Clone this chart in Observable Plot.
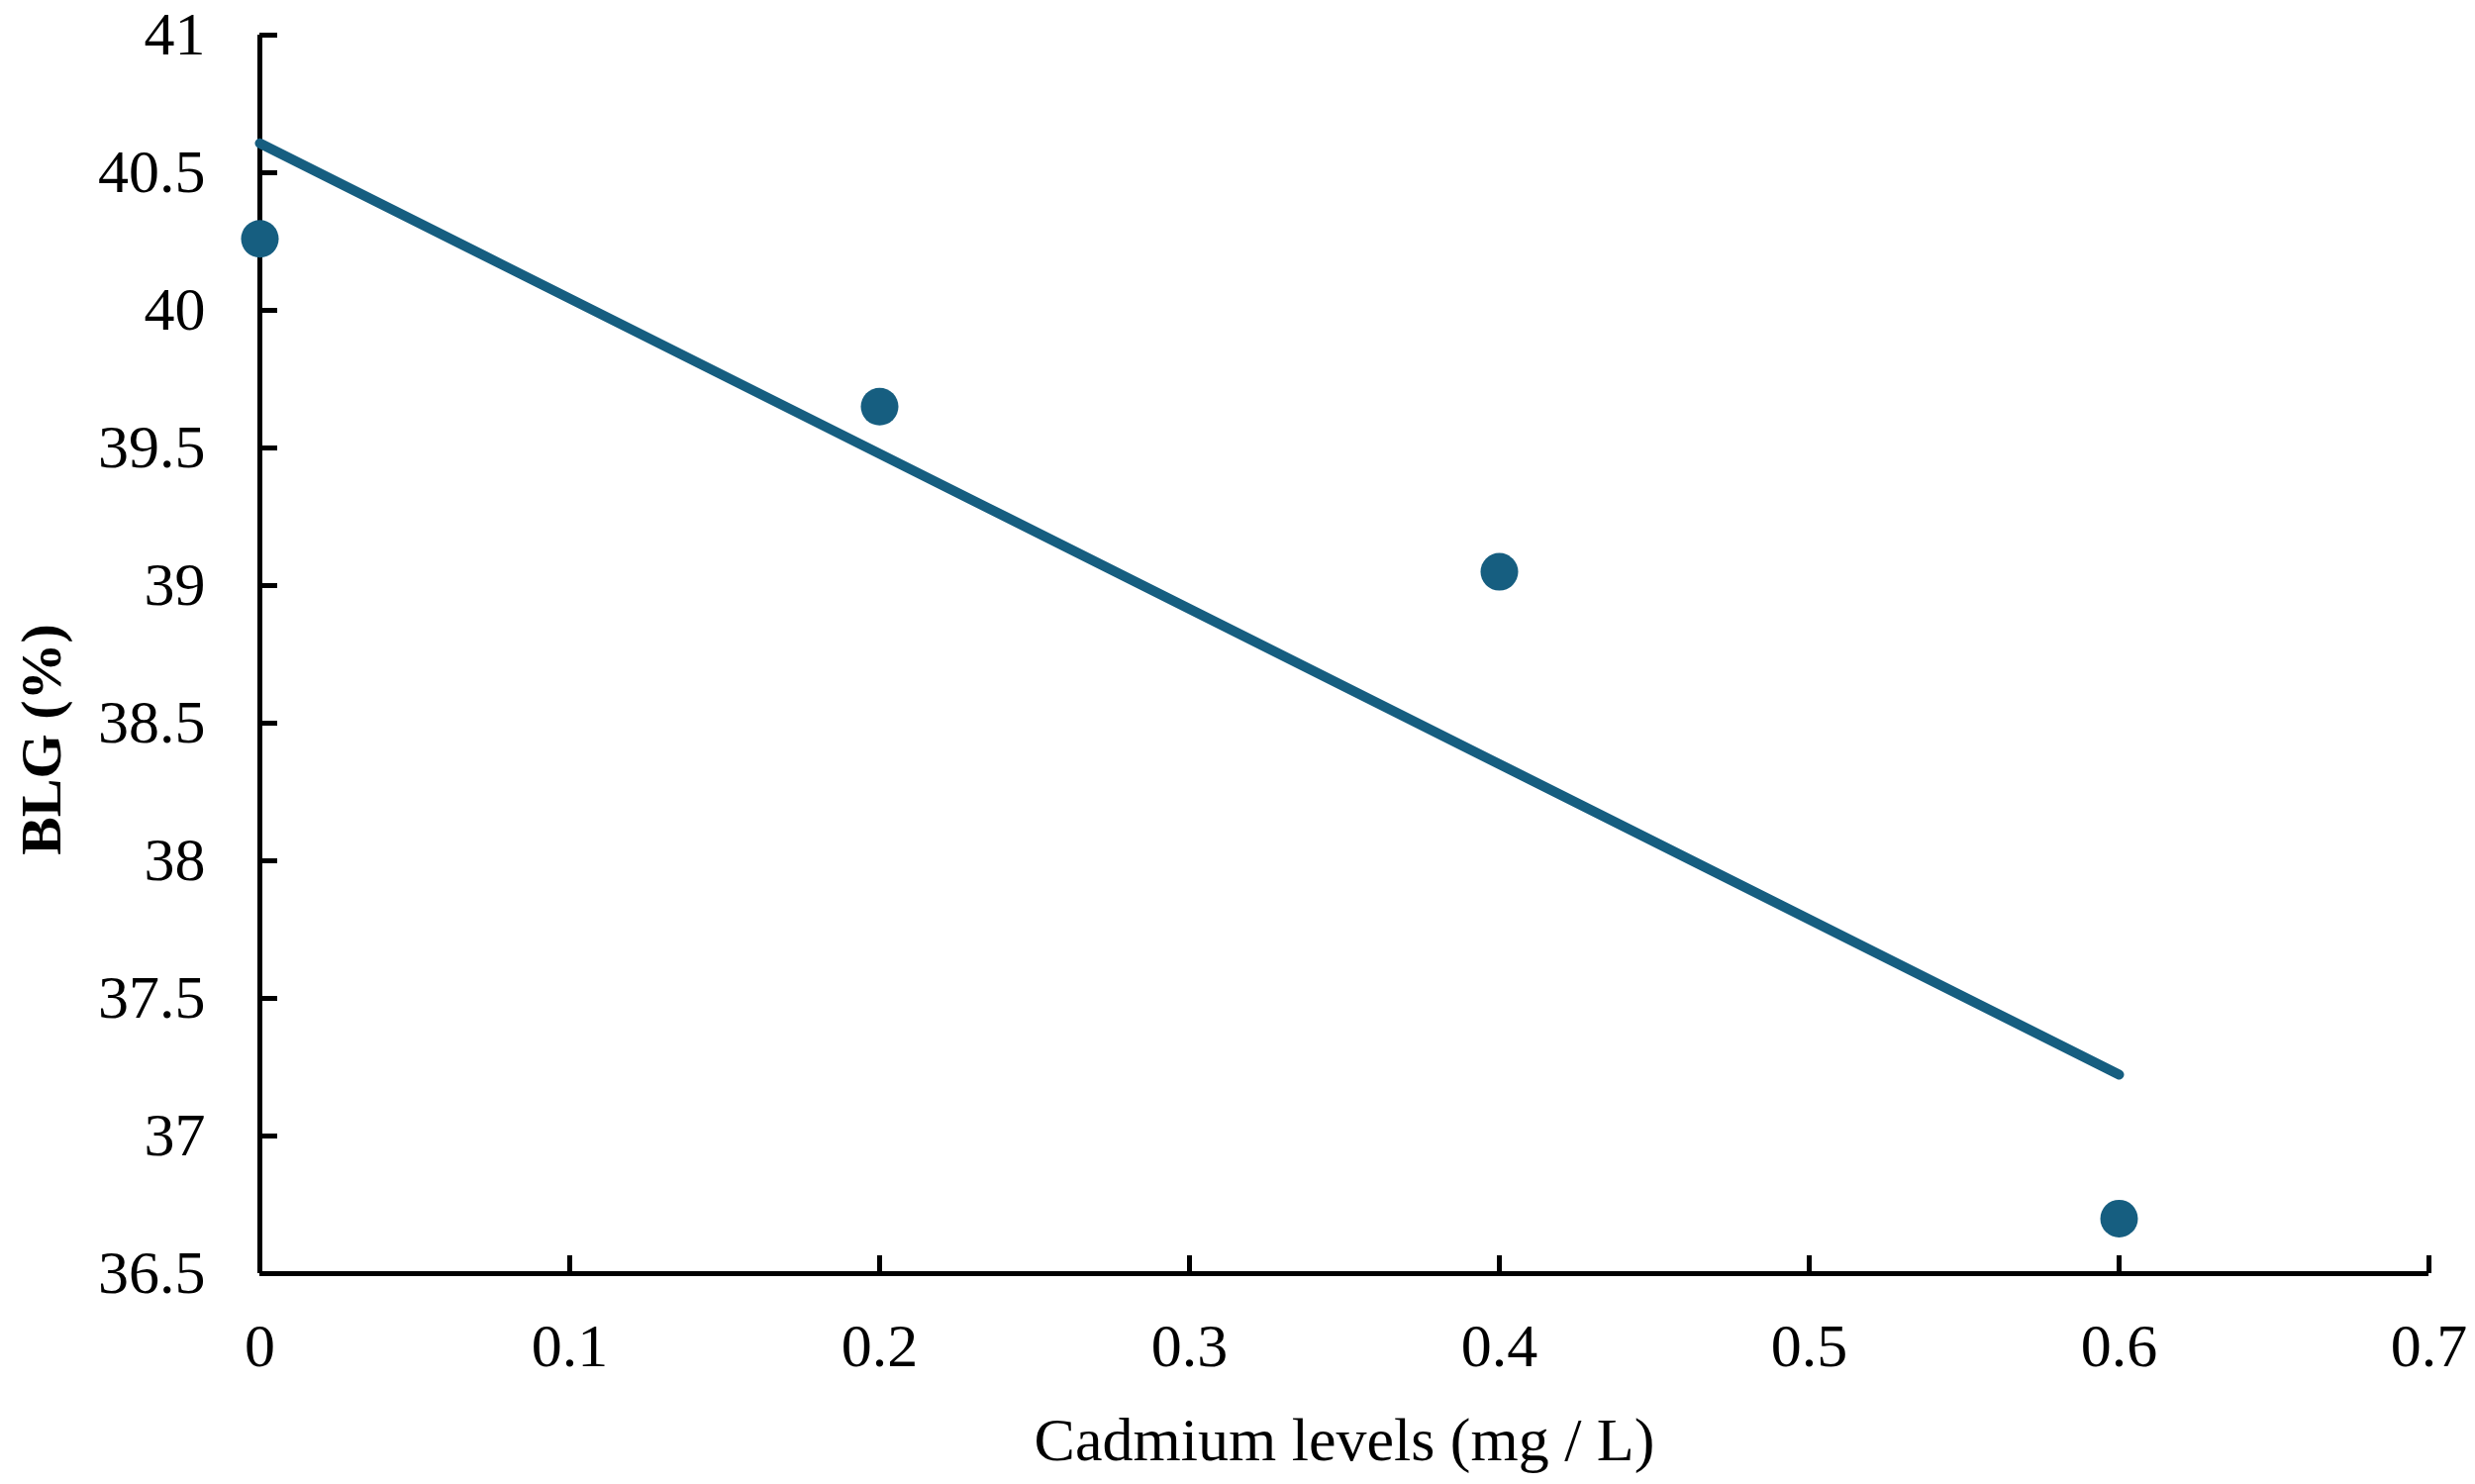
<!DOCTYPE html>
<html>
<head>
<meta charset="utf-8">
<script src="https://cdn.jsdelivr.net/npm/d3@7"></script>
<script src="https://cdn.jsdelivr.net/npm/@observablehq/plot@0.6"></script>
<style>
  body { margin: 0; background: #fff; }
  #chart svg { font-family: "Liberation Serif", serif; }
</style>
</head>
<body>
<div id="chart"></div>
<script>
/* datos */
const cadmium = [0, 0.2, 0.4, 0.6]
const blg = [40.26, 39.65, 39.05, 36.7]

const xTicks = [0, 0.1, 0.2, 0.3, 0.4, 0.5, 0.6, 0.7]
const yTicks = [36.5, 37, 37.5, 38, 38.5, 39, 39.5, 40, 40.5, 41]

const xLabel = 'Cadmium levels (mg / L)'
const yLabel = 'BLG (%)'

const color = '#165e80'

let data = cadmium.map((c, i) => ({cadmio: c, blg: blg[i]}))

function createChart(data) {
  const chart = Plot.plot({
    width: 2500,
    height: 1499,
    marginLeft: 262,
    marginRight: 47,
    marginTop: 35,
    marginBottom: 213,
    style: {fontFamily: '"Liberation Serif", serif', fontSize: '62px', color: '#000', background: '#fff'},
    x: {domain: [0, 0.7]},
    y: {domain: [36.5, 41]},
    marks: [
      // ticks hacia adentro
      Plot.axisY({ticks: yTicks, tickSize: -18, tickPadding: 73, strokeWidth: 5, tickFormat: d => String(d), label: null, fontSize: 62}),
      Plot.axisX({ticks: xTicks, tickSize: -18, tickPadding: 67, strokeWidth: 5, tickFormat: d => String(d), label: null, fontSize: 62}),
      Plot.ruleX([0], {strokeWidth: 5, stroke: '#000'}),
      Plot.ruleY([36.5], {strokeWidth: 5, stroke: '#000'}),
      Plot.linearRegressionY(data, {
        x: 'cadmio', y: 'blg', ci: 0,
        stroke: color, strokeWidth: 10, strokeLinecap: 'round',
      }),
      Plot.dot(data, {x: 'cadmio', y: 'blg', r: 19, fill: color, stroke: null}),
      // titulos de ejes
      Plot.text([xLabel], {frameAnchor: 'bottom', lineAnchor: 'middle', dy: 169, fontSize: 62, fill: '#000'}),
      Plot.text([yLabel], {frameAnchor: 'left', textAnchor: 'middle', lineAnchor: 'middle', dx: -220, dy: 86, rotate: -90, fontSize: 58, fontWeight: 'bold', fill: '#000'}),
    ],
  })

  d3.select('#chart svg').remove()
  d3.select('#chart').append(() => chart)
}

createChart(data)
</script>
</body>
</html>
